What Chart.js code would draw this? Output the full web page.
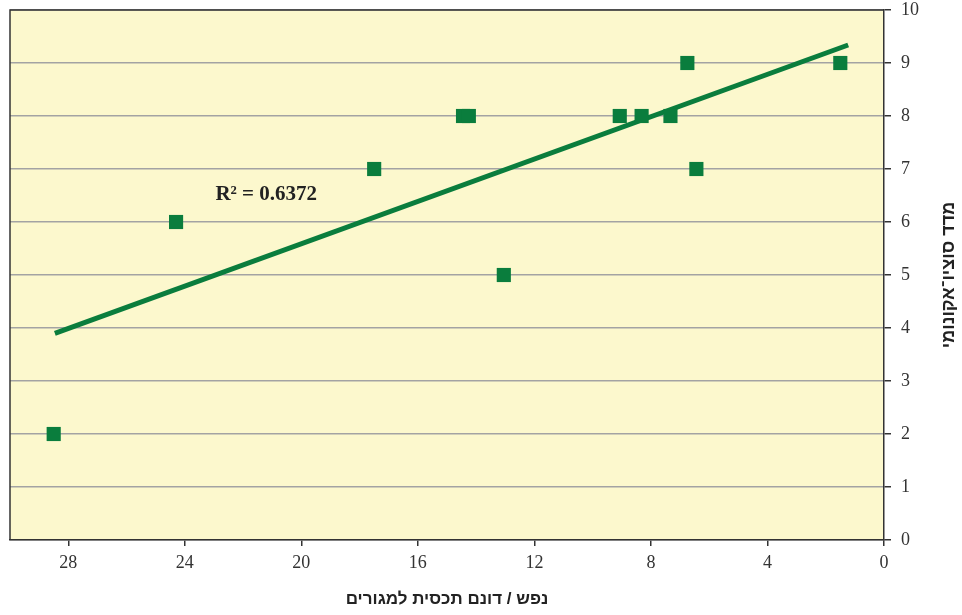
<!DOCTYPE html>
<html>
<head>
<meta charset="utf-8">
<script src="https://cdn.jsdelivr.net/npm/chart.js@4/dist/chart.umd.min.js"></script>
<style>
  html, body { margin: 0; padding: 0; background: #fff; }
  #wrap { width: 962px; height: 615px; }
</style>
</head>
<body>
<div id="wrap"><canvas id="chart" width="962" height="615"></canvas></div>
<script>
// density (persons / dunam of residential footprint) vs socio-economic index
const density = [28.5, 24.3, 17.5, 14.45, 14.25, 13.05, 9.07, 8.32, 7.33, 6.75, 6.44, 1.5];
const socioIndex = [2, 6, 7, 8, 8, 5, 8, 8, 8, 9, 7, 9];

// linear trend line end points
const trendX = [28.46, 1.23];
const trendY = [3.9, 9.34];

const xTicks = [0, 4, 8, 12, 16, 20, 24, 28];
const rSquared = 'R² = 0.6372';
const yTitle = 'מדד סוציו־אקונומי';

const green = '#0a7d3d';
const ink = '#333333';

let points = [];
for (let i = 0; i < density.length; i++) {
  points.push({ x: density[i], y: socioIndex[i] });
}
let trend = trendX.map((x, i) => ({ x: x, y: trendY[i] }));

// yellow plot background, dark frame, R² label and the y title (rotated ccw)
const plotDecor = {
  id: 'plotDecor',
  beforeDraw(chart) {
    const a = chart.chartArea;
    const ctx = chart.ctx;
    ctx.save();
    ctx.fillStyle = '#fcf8cd';
    ctx.fillRect(a.left, a.top, a.right - a.left, a.bottom - a.top);
    ctx.restore();
  },
  afterDatasetsDraw(chart) {
    const a = chart.chartArea;
    const ctx = chart.ctx;
    ctx.save();
    ctx.strokeStyle = ink;
    ctx.lineWidth = 1.5;
    ctx.beginPath();
    ctx.moveTo(a.left, a.bottom);
    ctx.lineTo(a.left, a.top);
    ctx.lineTo(a.right, a.top);
    ctx.stroke();

    const xs = chart.scales.x, ys = chart.scales.y;
    ctx.fillStyle = '#222';
    ctx.font = 'bold 21px "Liberation Serif", "Times New Roman", serif';
    ctx.textBaseline = 'middle';
    ctx.textAlign = 'left';
    ctx.fillText(rSquared, xs.getPixelForValue(22.95), ys.getPixelForValue(6.52));

    ctx.translate(949, (a.top + a.bottom) / 2);
    ctx.rotate(-Math.PI / 2);
    ctx.textAlign = 'center';
    ctx.font = 'bold 18px "Liberation Sans", "DejaVu Sans", sans-serif';
    ctx.fillText(yTitle, 0, 0);
    ctx.restore();
  }
};

new Chart(document.getElementById('chart').getContext('2d'), {
  type: 'scatter',
  data: {
    datasets: [
      {
        data: points,
        pointStyle: 'rect',
        pointRadius: 10,
        pointHoverRadius: 10,
        backgroundColor: green,
        borderColor: green,
        borderWidth: 0,
        order: 0
      },
      {
        type: 'line',
        data: trend,
        borderColor: green,
        borderWidth: 5,
        pointRadius: 0,
        fill: false,
        order: 1
      }
    ]
  },
  options: {
    responsive: false,
    animation: false,
    layout: { padding: { left: 7, top: 6, right: 0, bottom: 0 } },
    plugins: {
      legend: { display: false },
      tooltip: { enabled: false }
    },
    scales: {
      x: {
        type: 'linear',
        position: 'bottom',
        reverse: true,
        min: 0,
        max: 30,
        afterBuildTicks: (scale) => { scale.ticks = xTicks.map(v => ({ value: v })); },
        afterFit: (scale) => { scale.height = 75; scale.paddingLeft = 0; scale.paddingRight = 0; },
        grid: { drawOnChartArea: false, color: ink, tickLength: 6, lineWidth: 1.5 },
        border: { color: ink, width: 1.5 },
        ticks: {
          color: ink,
          padding: 6,
          maxRotation: 0,
          font: { family: '"Liberation Serif", "Times New Roman", serif', size: 18 }
        },
        title: {
          display: true,
          text: 'נפש / דונם תכסית למגורים',
          color: '#222',
          padding: { top: 0, bottom: 5 },
          font: { family: '"Liberation Sans", "DejaVu Sans", sans-serif', size: 17, weight: 'bold' }
        }
      },
      y: {
        position: 'right',
        min: 0,
        max: 10,
        afterFit: (scale) => { scale.width = 78; scale.paddingTop = 0; scale.paddingBottom = 0; },
        grid: { color: '#a3a3a3', lineWidth: 1.5, tickColor: ink, tickLength: 7 },
        border: { color: ink, width: 1.5 },
        ticks: {
          stepSize: 1,
          color: ink,
          padding: 10,
          font: { family: '"Liberation Serif", "Times New Roman", serif', size: 18 }
        }
      }
    }
  },
  plugins: [plotDecor]
});
</script>
</body>
</html>
